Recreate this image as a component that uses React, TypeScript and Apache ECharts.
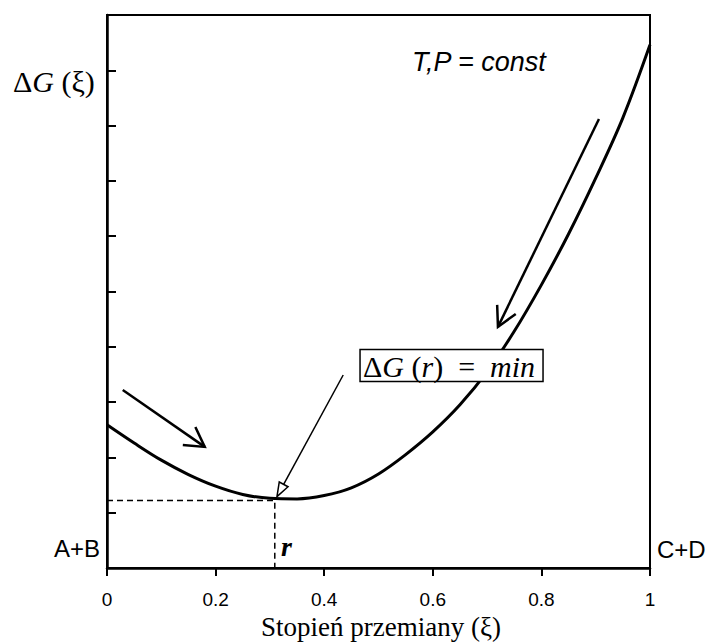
import { useEffect, useRef } from "react";
import * as echarts from "echarts";

// Curve ΔG(ξ)
const xiValues = [0, 0.05, 0.1, 0.15, 0.2, 0.25, 0.3, 0.35, 0.4, 0.45, 0.5, 0.55, 0.6, 0.65, 0.7, 0.75, 0.8, 0.85, 0.9, 0.95, 1.0];
const dGValues = [2.59, 2.26, 1.95, 1.69, 1.48, 1.33, 1.26, 1.25, 1.31, 1.45, 1.7, 2.05, 2.46, 2.95, 3.55, 4.28, 5.12, 6.04, 7.05, 8.14, 9.46];

// Equilibrium point (dashed guides)
const rXi = 0.309;
const rLevel = 1.22;

// x axis ticks
const xMin = 0;
const xMax = 1;
const xStep = 0.2;
// y axis ticks (unlabelled)
const yMin = 0;
const yMax = 10;
const yStep = 1;

// Annotation arrows, data coordinates [from, to]
const arrowLeft = [[0.029, 3.22], [0.18, 2.19]];
const arrowRight = [[0.906, 8.12], [0.72, 4.36]];
const arrowMin = [[0.435, 3.49], [0.313, 1.29]];
// Box anchor (top-left) in data coordinates
const boxAnchor = [0.466, 3.95];

const serif = "'Liberation Serif', 'Times New Roman', serif";
const sans = "'Liberation Sans', Arial, sans-serif";

export default function App() {
  const ref = useRef<HTMLDivElement>(null);
  useEffect(() => {
    if (!ref.current) return;
    const chart = echarts.init(ref.current, null, { renderer: "svg" });
    chart.setOption({
      animation: false,
      backgroundColor: "#fff",
      grid: { left: 107, right: 61, top: 15, bottom: 74, show: true, borderColor: "#000", borderWidth: 2 },
      xAxis: {
        type: "value",
        min: xMin,
        max: xMax,
        interval: xStep,
        axisLine: { lineStyle: { color: "#000", width: 2.5 } },
        axisTick: { inside: false, length: 8, lineStyle: { color: "#000", width: 2 } },
        axisLabel: {
          color: "#000",
          fontFamily: sans,
          fontSize: 19,
          margin: 22,
          formatter: (v: number) => (Math.abs(v - 1) < 1e-9 ? "1" : v === 0 ? "0" : String(Math.round(v * 10) / 10)),
        },
        splitLine: { show: false },
      },
      yAxis: {
        type: "value",
        min: yMin,
        max: yMax,
        interval: yStep,
        axisLine: { show: true, lineStyle: { color: "#000", width: 2.5 } },
        axisTick: { show: true, inside: true, length: 9, lineStyle: { color: "#000", width: 2 } },
        axisLabel: { show: false },
        splitLine: { show: false },
      },
      series: [
        {
          type: "line",
          data: xiValues.map((x, i) => [x, dGValues[i]]),
          smooth: 0.35,
          showSymbol: false,
          lineStyle: { color: "#000", width: 3 },
          z: 3,
        },
        {
          type: "line",
          data: [[0, rLevel], [rXi, rLevel], [rXi, 0]],
          showSymbol: false,
          lineStyle: { color: "#000", width: 1.5, type: [6, 4] },
          z: 2,
        },
      ],
    });

    const px = (p: number[]) => chart.convertToPixel({ gridIndex: 0 }, p) as number[];
    const openHead = (from: number[], to: number[], len: number, ang: number) => {
      const a = Math.atan2(from[1] - to[1], from[0] - to[0]);
      const r = (ang * Math.PI) / 180;
      return [
        [to[0] + len * Math.cos(a + r), to[1] + len * Math.sin(a + r)],
        [to[0], to[1]],
        [to[0] + len * Math.cos(a - r), to[1] + len * Math.sin(a - r)],
      ];
    };
    const triHead = (from: number[], to: number[], len: number, half: number) => {
      const a = Math.atan2(from[1] - to[1], from[0] - to[0]);
      const bx = to[0] + len * Math.cos(a);
      const by = to[1] + len * Math.sin(a);
      const nx = -Math.sin(a) * half;
      const ny = Math.cos(a) * half;
      return [[to[0], to[1]], [bx + nx, by + ny], [bx - nx, by - ny]];
    };

    const graphics: any[] = [];
    const addOpenArrow = (arr: number[][], width: number, len: number, ang: number) => {
      const f = px(arr[0]);
      const t = px(arr[1]);
      graphics.push({ type: "line", z: 50, shape: { x1: f[0], y1: f[1], x2: t[0], y2: t[1] }, style: { stroke: "#000", lineWidth: width } });
      graphics.push({ type: "polyline", z: 50, shape: { points: openHead(f, t, len, ang) }, style: { stroke: "#000", lineWidth: width, fill: null } });
    };
    addOpenArrow(arrowLeft, 2.5, 22, 30);
    addOpenArrow(arrowRight, 2.5, 22, 28);
    {
      const f = px(arrowMin[0]);
      const t = px(arrowMin[1]);
      const head = triHead(f, t, 14, 5);
      const a = Math.atan2(f[1] - t[1], f[0] - t[0]);
      graphics.push({ type: "line", z: 50, shape: { x1: f[0], y1: f[1], x2: t[0] + 14 * Math.cos(a), y2: t[1] + 14 * Math.sin(a) }, style: { stroke: "#000", lineWidth: 1.5 } });
      graphics.push({ type: "polygon", z: 50, shape: { points: head }, style: { stroke: "#000", lineWidth: 1.5, fill: "#fff" } });
    }
    const b = px(boxAnchor);
    graphics.push({ type: "rect", z: 60, shape: { x: b[0], y: b[1], width: 183, height: 32 }, style: { fill: "#fff", stroke: "#000", lineWidth: 1.5 } });
    graphics.push({
      type: "text",
      z: 61,
      x: b[0] + 3,
      y: b[1] + 17,
      style: {
        text: "{u|Δ}{i|G}{u| (}{i|r}{u|)  =  }{i|min}",
        verticalAlign: "middle",
        align: "left",
        rich: {
          u: { fontFamily: serif, fontSize: 30, fill: "#000" },
          i: { fontFamily: serif, fontSize: 30, fontStyle: "italic", fill: "#000" },
        },
      },
    });
    graphics.push({
      type: "text",
      z: 61,
      x: 13,
      y: 81,
      style: {
        text: "{u|Δ}{i|G}{u| (ξ)}",
        verticalAlign: "middle",
        align: "left",
        rich: {
          u: { fontFamily: serif, fontSize: 30, fill: "#000" },
          i: { fontFamily: serif, fontSize: 30, fontStyle: "italic", fill: "#000" },
        },
      },
    });
    graphics.push({
      type: "text",
      z: 61,
      x: 412,
      y: 62,
      style: { text: "T,P = const", fontFamily: sans, fontSize: 27, fontStyle: "italic", fill: "#000", verticalAlign: "middle", align: "left" },
    });
    graphics.push({
      type: "text",
      z: 61,
      x: 100,
      y: 548,
      style: { text: "A+B", fontFamily: sans, fontSize: 24, fill: "#000", verticalAlign: "middle", align: "right" },
    });
    graphics.push({
      type: "text",
      z: 61,
      x: 657,
      y: 549,
      style: { text: "C+D", fontFamily: sans, fontSize: 24, fill: "#000", verticalAlign: "middle", align: "left" },
    });
    graphics.push({
      type: "text",
      z: 61,
      x: 281,
      y: 546,
      style: { text: "r", fontFamily: serif, fontSize: 28, fontStyle: "italic", fontWeight: "bold", fill: "#000", verticalAlign: "middle", align: "left" },
    });
    graphics.push({
      type: "text",
      z: 61,
      x: 381,
      y: 627,
      style: { text: "Stopień przemiany (ξ)", fontFamily: serif, fontSize: 27, fill: "#000", verticalAlign: "middle", align: "center" },
    });
    chart.setOption({ graphic: graphics });
    return () => chart.dispose();
  }, []);
  return <div ref={ref} style={{ position: "fixed", left: 0, top: 0, width: 711, height: 642 }} />;
}
